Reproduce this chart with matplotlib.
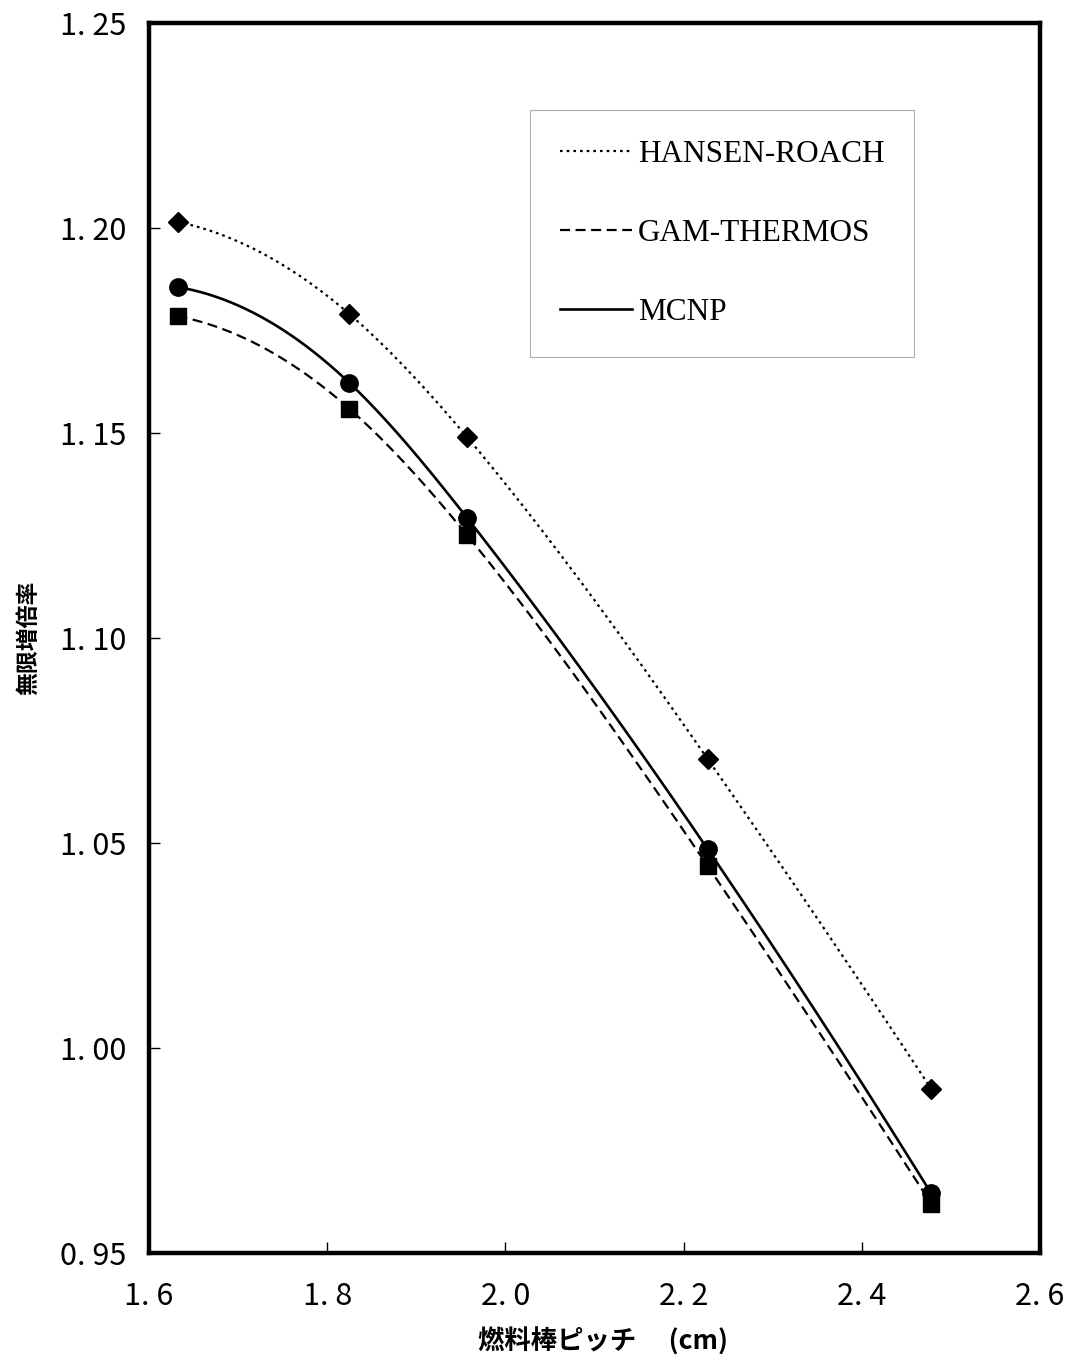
import numpy as np
import matplotlib
matplotlib.use("Agg")
import matplotlib.pyplot as plt
from matplotlib.lines import Line2D

plt.rcParams['font.family'] = ['Noto Sans CJK JP', 'DejaVu Sans']

# data
pitch = [1.632, 1.825, 1.957, 2.227, 2.478]
hansen_roach = [1.2015, 1.179, 1.149, 1.0705, 0.990]
gam_thermos = [1.1785, 1.1559, 1.1251, 1.0444, 0.9620]
mcnp = [1.1856, 1.1622, 1.1293, 1.0485, 0.9645]

series_names = ["HANSEN-ROACH", "GAM-THERMOS", "MCNP"]
x_ticks = [1.6, 1.8, 2.0, 2.2, 2.4, 2.6]
y_ticks = [0.95, 1.00, 1.05, 1.10, 1.15, 1.20, 1.25]


# cubic spline through the points, parabolic run-out at the ends
def smooth(xs, ys, n=300):
    x = np.asarray(xs, float)
    y = np.asarray(ys, float)
    m = len(x)
    h = np.diff(x)
    A = np.zeros((m, m))
    b = np.zeros(m)
    A[0, 0], A[0, 1] = 1.0, -1.0
    A[-1, -1], A[-1, -2] = 1.0, -1.0
    for i in range(1, m - 1):
        A[i, i - 1] = h[i - 1]
        A[i, i] = 2 * (h[i - 1] + h[i])
        A[i, i + 1] = h[i]
        b[i] = 6 * ((y[i + 1] - y[i]) / h[i] - (y[i] - y[i - 1]) / h[i - 1])
    M = np.linalg.solve(A, b)
    xx = np.linspace(x[0], x[-1], n)
    k = np.clip(np.searchsorted(x, xx) - 1, 0, m - 2)
    t1 = x[k + 1] - xx
    t0 = xx - x[k]
    hk = h[k]
    yy = (M[k] * t1 ** 3 / (6 * hk) + M[k + 1] * t0 ** 3 / (6 * hk)
          + (y[k] / hk - M[k] * hk / 6) * t1 + (y[k + 1] / hk - M[k + 1] * hk / 6) * t0)
    return xx, yy


fig = plt.figure(figsize=(10.75, 13.61), dpi=100)
ax = fig.add_axes([0.1386, 0.0794, 0.8288, 0.9037])

styles = [
    dict(ls=(0, (1.2, 1.8)), lw=1.6, marker="D", ms=10),
    dict(ls=(0, (4.5, 2.5)), lw=1.6, marker="s", ms=11.5),
    dict(ls="-", lw=1.9, marker="o", ms=12.5),
]
data = [hansen_roach, gam_thermos, mcnp]

for vals, st in zip(data, styles):
    sx, sy = smooth(pitch, vals)
    ax.plot(sx, sy, color="black", linestyle=st["ls"], linewidth=st["lw"])
    ax.plot(pitch, vals, linestyle="none", marker=st["marker"], markersize=st["ms"],
            color="black", markeredgecolor="black")

ax.set_xlim(1.6, 2.6)
ax.set_ylim(0.95, 1.25)
ax.set_xticks(x_ticks)
ax.set_yticks(y_ticks)
ax.xaxis.set_major_formatter(plt.FuncFormatter(lambda v, p: ("%.1f" % v).replace(".", ". ")))
ax.yaxis.set_major_formatter(plt.FuncFormatter(lambda v, p: ("%.2f" % v).replace(".", ". ")))
ax.tick_params(direction="in", length=8, width=1, labelsize=22)
ax.tick_params(axis="y", pad=16)
ax.tick_params(axis="x", pad=20)
for s in ax.spines.values():
    s.set_linewidth(3.2)

ax.set_ylabel("無限増倍率", fontsize=16.5, fontweight="bold", labelpad=0)
ax.yaxis.set_label_coords(-0.1225, 0.5)
ax.set_xlabel("燃料棒ピッチ　 (cm)", fontsize=19, fontweight="bold")
ax.xaxis.set_label_coords(0.51, -0.061)

handles = [Line2D([], [], color="black", linestyle=st["ls"], linewidth=st["lw"]) for st in styles]
leg = ax.legend(handles, series_names, loc="upper left", bbox_to_anchor=(0.428, 0.929),
                prop={"family": "Liberation Serif", "size": 22.5}, frameon=True,
                fancybox=False, edgecolor="#9a9a9a", handlelength=2.3, handletextpad=0.2,
                labelspacing=1.6, borderpad=0.95, borderaxespad=0)
leg.get_frame().set_linewidth(0.8)

fig.savefig("out.png", dpi=100)
